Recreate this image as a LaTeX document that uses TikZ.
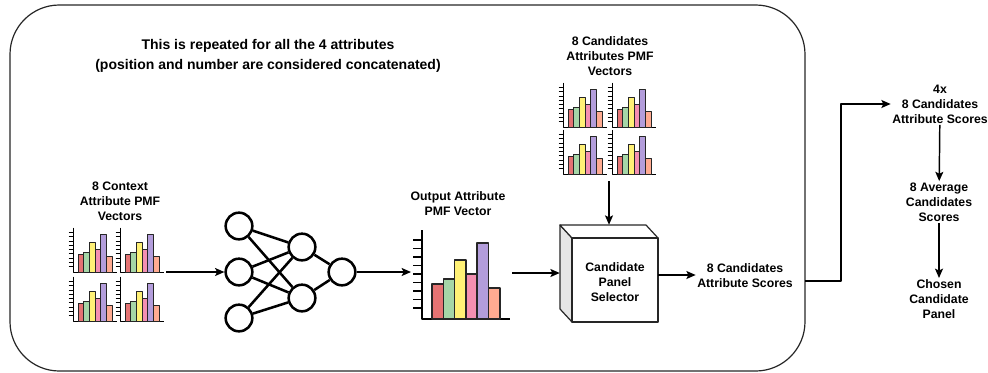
\documentclass[tikz,border=0pt]{standalone}
\usepackage{fontspec}
\setmainfont{Liberation Sans}
\usetikzlibrary{arrows.meta}

\definecolor{barred}{HTML}{E57373}
\definecolor{bargreen}{HTML}{A5D6A7}
\definecolor{baryellow}{HTML}{FFF176}
\definecolor{barpink}{HTML}{F48FB1}
\definecolor{barpurple}{HTML}{B39DDB}
\definecolor{barorange}{HTML}{FFAB91}
\definecolor{cubeside}{HTML}{E6E6E6}

% one pmf bar chart, origin at the foot of the axis
\newcommand{\pmfchart}[3]{%
  \begin{scope}[shift={#1},scale=#2,line width=#3]
    \draw (0,-89)--(0,0)--(88,0);
    \foreach \t in {0,...,8}
      \draw (-9,{-11-8.5*\t})--(0,{-11-8.5*\t});
    \foreach \h/\c [count=\i from 0] in {35/barred,40/bargreen,59/baryellow,45/barpink,76/barpurple,31/barorange}
      \filldraw[fill=\c,draw=black!85] ({10+11.3*\i},0) rectangle ++(11.3,-\h);
  \end{scope}}

\begin{document}
\begin{tikzpicture}[>={Stealth[length=7pt,width=6pt,inset=1.5pt]},line join=round,x=0.75pt,y=-0.75pt,
    txt/.style={align=center,font=\bfseries\fontsize{9.2}{11.2}\selectfont,inner sep=1pt},
    neuron/.style={draw,circle,line width=1.9pt,minimum size=20pt,inner sep=0pt},
    link/.style={line width=1.9pt},
    flow/.style={->,line width=1.1pt}]
	\useasboundingbox (0,0) rectangle (988,372);
	
	% repeated block
	\draw[line width=0.9pt,black!85,rounded corners=37pt] (10,5) rectangle (805,371);
	\node[txt,font=\bfseries\fontsize{10.5}{15}\selectfont] (title) at (268,56)
	  {This is repeated for all the 4 attributes\\(position and number are considered concatenated)};
	
	% context vectors
	\node[txt] (ctxlabel) at (120,201) {8 Context\\Attribute PMF\\Vectors};
	\pmfchart{(73,272)}{0.5}{0.6pt}
	\pmfchart{(120,272)}{0.5}{0.6pt}
	\pmfchart{(73,321)}{0.5}{0.6pt}
	\pmfchart{(120,321)}{0.5}{0.6pt}
	\coordinate (ctxout) at (166,272);
	
	% network
	\node[neuron] (i1) at (239,226) {};
	\node[neuron] (i2) at (239,272) {};
	\node[neuron] (i3) at (239,318) {};
	\node[neuron] (h1) at (302,247) {};
	\node[neuron] (h2) at (302,298) {};
	\node[neuron] (o) at (342,272) {};
	\foreach \a in {i1,i2,i3}
	  \foreach \b in {h1,h2}
	    \draw[link] (\a)--(\b);
	\draw[link] (h1)--(o);
	\draw[link] (h2)--(o);
	
	% output vector
	\node[txt] (outlabel) at (458,204) {Output Attribute\\PMF Vector};
	\pmfchart{(422,319)}{1}{1.1pt}
	\coordinate (chartin) at (411,272);
	\coordinate (chartout) at (512,273);
	
	% candidate vectors
	\node[txt] (candlabel) at (610,56) {8 Candidates\\Attributes PMF\\Vectors};
	\pmfchart{(563,127)}{0.5}{0.6pt}
	\pmfchart{(612,127)}{0.5}{0.6pt}
	\pmfchart{(563,174)}{0.5}{0.6pt}
	\pmfchart{(612,174)}{0.5}{0.6pt}
	\coordinate (candout) at (609,181);
	
	% selector cube
	\filldraw[line width=0.9pt,fill=cubeside,draw=black!85] (560,225)--(572,238)--(572,322)--(560,309)--cycle;
	\filldraw[line width=0.9pt,fill=white,draw=black!85] (560,225)--(646,225)--(658,238)--(572,238)--cycle;
	\filldraw[line width=0.9pt,fill=white,draw=black!85] (572,238) rectangle (658,322);
	\node[minimum width=73.5pt,minimum height=72.75pt,inner sep=0pt] (sel) at (609,273.5) {};
	\node[txt] (seltext) at (615,282) {Candidate\\Panel\\Selector};
	
	\node[txt] (scores) at (745,276) {8 Candidates\\Attribute Scores};
	\coordinate (groupout) at (805,281);
	
	% outside the block
	\node[txt] (allscores) at (940,104) {4x\\8 Candidates\\Attribute Scores};
	\node[txt] (avgscores) at (939,202) {8 Average\\Candidates\\Scores};
	\node[txt] (chosen) at (939,299) {Chosen\\Candidate\\Panel};
	
	\draw[flow] (ctxout)--(i2);
	\draw[flow] (o)--(chartin);
	\draw[flow] (chartout)--(sel.west |- chartout);
	\draw[flow] (candout)--(sel.north);
	\draw[flow] (sel.east |- 0,275)--(scores.west |- 0,275);
	\draw[flow] (groupout)--(841,281)--(841,104)--(allscores.west);
	\draw[flow] (allscores)--(avgscores);
	\draw[flow] (avgscores)--(chosen);
\end{tikzpicture}
\end{document}
